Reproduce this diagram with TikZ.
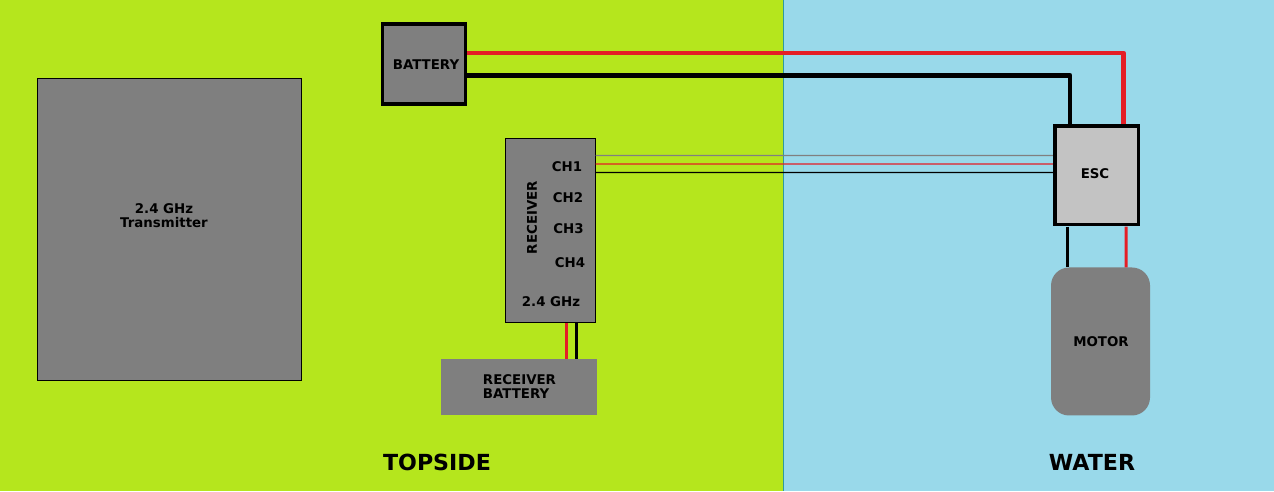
\documentclass[tikz,border=0pt]{standalone}
\usepackage{fontspec}
\setmainfont{DejaVu Sans}
\definecolor{topgreen}{HTML}{B5E61D}
\definecolor{waterblue}{HTML}{99D9EA}
\definecolor{boxgray}{HTML}{7F7F7F}
\definecolor{escgray}{HTML}{C3C3C3}
\definecolor{wirered}{HTML}{E41E26}
\tikzset{
	box/.style={fill=boxgray, inner sep=0, outer sep=0},
	txt/.style={inner sep=0, font=\fontsize{3.8}{3.95}\selectfont\bfseries},
	side/.style={inner sep=0, font=\fontsize{6.3}{7}\selectfont\bfseries},
	thick wire/.style={line width=.048cm, line join=round},
	thin wire/.style={line width=.012cm},
	lead/.style={line width=.03cm}
}
\begin{document}
\begin{tikzpicture}[y=-1cm]
			% Background
			\fill[topgreen] (0, 0) rectangle (7.83, 4.91);
			\fill[waterblue] (7.83, 0) rectangle (12.74, 4.91);
			\draw[line width=.01cm, teal!70!waterblue] (7.835, 0) -- (7.835, 4.91);

			% Boxes
			\node[box, draw=black, line width=.01cm, minimum width=2.64cm, minimum height=3.02cm] (transmitter) at (1.695, 2.295) {};
			\node[box, draw=black, line width=.035cm, minimum width=.83cm, minimum height=.8cm] (battery) at (4.24, .635) {};
			\node[box, draw=black, line width=.01cm, minimum width=.9cm, minimum height=1.84cm] (receiver) at (5.505, 2.305) {};
			\node[box, minimum width=1.56cm, minimum height=.56cm] (recbattery) at (5.19, 3.87) {};
			\node[box, fill=escgray, draw=black, line width=.035cm, minimum width=.835cm, minimum height=.985cm] (esc) at (10.965, 1.75) {};
			\node[box, rounded corners=.18cm, minimum width=.99cm, minimum height=1.48cm] (motor) at (11.005, 3.41) {};

			% Box labels
			\node[txt, align=center] (transmitterlabel) at (1.64, 2.15) {2.4 GHz\\Transmitter};
			\node[txt] (batterylabel) at (4.26, .64) {BATTERY};
			\node[txt, align=left] (recbatterylabel) at (5.195, 3.86) {RECEIVER\\BATTERY};
			\node[txt] (esclabel) at (10.95, 1.73) {ESC};
			\node[txt] (motorlabel) at (11.01, 3.41) {MOTOR};

			% Receiver labels
			\node[txt, rotate=90] (receiverlabel) at (5.32, 2.17) {RECEIVER};
			\node[txt] (ch1) at (5.67, 1.66) {CH1};
			\node[txt] (ch2) at (5.68, 1.97) {CH2};
			\node[txt] (ch3) at (5.685, 2.28) {CH3};
			\node[txt] (ch4) at (5.70, 2.62) {CH4};
			\node[txt] (ghz) at (5.51, 3.01) {2.4 GHz};

			% Power wires
			\draw[thick wire, wirered] ([xshift=.018cm, yshift=.11cm]battery.east) -| ([xshift=.27cm, yshift=.018cm]esc.north);
			\draw[thick wire, black] ([xshift=.018cm, yshift=-.115cm]battery.east) -| ([xshift=-.265cm, yshift=.018cm]esc.north);

			% Signal wires
			\draw[thin wire, gray] ([yshift=.755cm]receiver.east) -- ([xshift=-.018cm, yshift=.20cm]esc.west);
			\draw[thin wire, wirered] ([yshift=.67cm]receiver.east) -- ([xshift=-.018cm, yshift=.115cm]esc.west);
			\draw[thin wire, black] ([yshift=.585cm]receiver.east) -- ([xshift=-.018cm, yshift=.03cm]esc.west);

			% Motor leads
			\draw[lead, black] ([xshift=-.295cm, yshift=-.018cm]esc.south) -- ([xshift=-.335cm]motor.north);
			\draw[lead, wirered] ([xshift=.295cm, yshift=-.018cm]esc.south) -- ([xshift=.255cm]motor.north);

			% Receiver battery leads
			\draw[lead, wirered] ([xshift=.158cm]receiver.south) -- ([xshift=.473cm]recbattery.north);
			\draw[lead, black] ([xshift=.258cm]receiver.south) -- ([xshift=.573cm]recbattery.north);

			% Side names
			\node[side] (topside) at (4.37, 4.62) {TOPSIDE};
			\node[side] (water) at (10.92, 4.62) {WATER};
\end{tikzpicture}
\end{document}
